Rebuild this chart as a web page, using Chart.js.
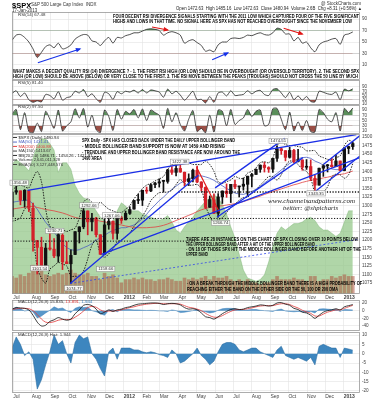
<!DOCTYPE html>
<html>
<head>
<meta charset="utf-8">
<script src="https://cdn.jsdelivr.net/npm/chart.js@4.4.1/dist/chart.umd.min.js"></script>
<style>
html,body{margin:0;padding:0;background:#fff;}
#wrap{position:relative;width:377px;height:400px;overflow:hidden;}
.pane{position:absolute;left:0;width:377px;}
#over{position:absolute;left:0;top:0;pointer-events:none;}
</style>
</head>
<body>
<div id="wrap">
  <div class="pane" style="top:12px;height:68px"><canvas id="rsi14"></canvas></div>
  <div class="pane" style="top:80px;height:25px"><canvas id="rsi5"></canvas></div>
  <div class="pane" style="top:105px;height:29px"><canvas id="rsi2"></canvas></div>
  <div class="pane" style="top:134px;height:167px"><canvas id="price"></canvas></div>
  <div class="pane" style="top:300px;height:31px"><canvas id="macd"></canvas></div>
  <div class="pane" style="top:332px;height:68px"><canvas id="hist"></canvas></div>
  <canvas id="over" width="377" height="400"></canvas>
</div>
<script>
// ================= DATA =================
const weeks = [
  '2011-07-01','2011-07-08','2011-07-15','2011-07-22','2011-07-29','2011-08-05','2011-08-12','2011-08-19','2011-08-26',
  '2011-09-02','2011-09-09','2011-09-16','2011-09-23','2011-09-30','2011-10-07','2011-10-14','2011-10-21','2011-10-28',
  '2011-11-04','2011-11-11','2011-11-18','2011-11-25','2011-12-02','2011-12-09','2011-12-16','2011-12-23','2011-12-30',
  '2012-01-06','2012-01-13','2012-01-20','2012-01-27','2012-02-03','2012-02-10','2012-02-17','2012-02-24','2012-03-02',
  '2012-03-09','2012-03-16','2012-03-23','2012-03-30','2012-04-06','2012-04-13','2012-04-20','2012-04-27','2012-05-04',
  '2012-05-11','2012-05-18','2012-05-25','2012-06-01','2012-06-08','2012-06-15','2012-06-22','2012-06-29','2012-07-06',
  '2012-07-13','2012-07-20','2012-07-27','2012-08-03','2012-08-10','2012-08-17','2012-08-24','2012-08-31','2012-09-07',
  '2012-09-14','2012-09-21','2012-09-28','2012-10-05','2012-10-12','2012-10-19','2012-10-26','2012-11-02','2012-11-09',
  '2012-11-16','2012-11-23','2012-11-30','2012-12-07','2012-12-14','2012-12-21','2012-12-28','2013-01-04','2013-01-11','2013-01-18'
];
const opens = [1268.4,1339.6,1343.3,1315.9,1344.3,1292.6,1198.5,1179.2,1123.2,1177.0,1173.6,1153.5,1214.0,1136.9,1131.2,1158.2,1224.5,1238.7,
  1284.9,1253.2,1263.9,1215.6,1158.7,1244.3,1255.1,1219.7,1265.0,1258.9,1277.8,1290.2,1315.3,1316.2,1344.3,1343.1,1361.2,1366.0,
  1370.8,1370.8,1404.2,1397.1,1408.5,1397.4,1370.3,1378.5,1403.3,1369.1,1353.4,1295.7,1317.4,1278.0,1325.7,1342.4,1335.0,1362.3,
  1354.7,1356.8,1362.3,1385.9,1391.0,1405.9,1418.1,1411.1,1406.5,1438.0,1465.8,1460.3,1440.9,1461.0,1428.8,1433.2,1412.0,1414.0,
  1379.9,1359.9,1409.2,1416.3,1418.1,1413.5,1430.2,1402.4,1466.5,1472.1];
const highs = [1341.0,1356.5,1343.3,1347.0,1345.0,1307.4,1199.1,1208.5,1190.7,1230.7,1204.4,1220.1,1222.0,1195.9,1171.4,1224.6,1239.0,1292.7,
  1285.0,1277.6,1266.0,1215.6,1261.7,1267.1,1255.1,1265.4,1269.4,1284.6,1296.8,1315.5,1333.5,1345.3,1354.3,1363.4,1368.0,1378.0,
  1374.0,1405.9,1414.0,1419.2,1422.4,1398.1,1392.8,1406.6,1415.3,1370.0,1355.0,1328.5,1334.4,1335.5,1343.3,1363.5,1362.2,1374.8,
  1357.0,1380.4,1386.0,1394.2,1407.1,1418.7,1426.7,1413.5,1438.0,1474.5,1467.1,1460.3,1470.0,1464.0,1464.0,1433.7,1434.3,1433.4,
  1388.8,1409.2,1419.7,1420.3,1438.6,1448.0,1430.2,1467.9,1472.8,1485.2];
const lows = [1267.4,1333.2,1302.7,1295.9,1282.9,1168.1,1101.5,1121.1,1121.1,1170.4,1149.1,1136.2,1114.2,1131.1,1074.8,1157.5,1191.5,1233.0,
  1215.4,1226.6,1209.4,1158.7,1158.7,1231.5,1202.4,1202.4,1248.6,1258.9,1274.7,1290.2,1306.1,1300.5,1335.9,1340.8,1352.3,1354.2,
  1340.0,1365.5,1391.0,1386.9,1397.2,1357.4,1358.8,1369.6,1367.0,1343.1,1291.0,1295.1,1277.2,1266.7,1306.6,1324.4,1309.3,1350.0,
  1325.4,1345.1,1329.2,1354.7,1391.0,1397.3,1398.0,1397.0,1396.6,1429.1,1449.6,1430.5,1438.6,1425.5,1427.8,1403.3,1405.6,1373.0,
  1343.4,1359.9,1385.4,1398.2,1411.9,1413.5,1401.6,1401.6,1451.6,1463.8];
const closes = [1339.7,1343.8,1316.1,1345.0,1292.3,1199.4,1178.8,1123.5,1176.8,1174.0,1154.2,1216.0,1136.4,1131.4,1155.5,1224.6,1238.3,1285.1,
  1253.2,1263.9,1215.7,1158.7,1244.3,1255.2,1219.7,1265.3,1257.6,1277.8,1289.1,1315.4,1316.3,1344.9,1342.6,1361.2,1365.7,1369.6,
  1370.9,1404.2,1397.1,1408.5,1398.1,1370.3,1378.5,1403.4,1369.1,1353.4,1295.2,1317.8,1278.0,1325.7,1342.8,1335.0,1362.2,1354.7,
  1356.8,1362.7,1386.0,1391.0,1405.9,1418.2,1411.1,1406.6,1437.9,1465.8,1460.2,1440.7,1460.9,1428.6,1433.2,1411.9,1414.2,1379.9,
  1359.9,1409.2,1416.2,1418.1,1413.6,1430.2,1402.4,1466.5,1472.1,1480.9];

const ma50 = [1310,1312,1314,1316,1316,1305,1290,1270,1252,1237,1222,1208,1190,1178,1172,1170,1172,1178,1183,1190,
  1200,1207,1214,1222,1228,1232,1236,1236,1240,1244,1252,1262,1275,1290,1302,1315,1325,1337,1348,1357,
  1366,1372,1378,1383,1386,1387,1384,1380,1374,1366,1358,1350,1344,1337,1334,1333,1337,1342,1348,1356,
  1366,1375,1385,1394,1404,1414,1423,1430,1437,1440,1441,1438,1430,1425,1418,1412,1407,1405,1405,1410,1418,1431];
const ma200 = [1290,1292,1294,1296,1298,1298,1295,1292,1289,1287,1285,1282,1279,1275,1270,1266,1263,1262,1260,1259,
  1258,1255,1253,1251,1248,1246,1244,1241,1239,1237,1236,1236,1236,1237,1238,1240,1243,1247,1252,1257,
  1262,1267,1272,1277,1283,1288,1292,1295,1297,1299,1300,1302,1304,1306,1309,1312,1316,1320,1324,1328,
  1333,1337,1341,1345,1349,1353,1357,1361,1364,1368,1371,1374,1376,1378,1381,1383,1386,1389,1391,1393,1397,1401];
const bbUpper = [1345,1355,1360,1355,1352,1380,1400,1370,1290,1240,1235,1225,1230,1225,1230,1235,1265,1310,1320,1310,
  1300,1310,1300,1290,1285,1280,1280,1290,1300,1320,1335,1350,1360,1365,1372,1378,1385,1405,1420,1422,
  1420,1425,1425,1420,1420,1420,1430,1420,1400,1370,1365,1370,1375,1385,1380,1380,1395,1400,1410,1425,
  1428,1425,1440,1475,1485,1478,1475,1475,1472,1470,1460,1460,1460,1445,1440,1435,1432,1440,1445,1475,1490,1486];
const bbLower = [1255,1258,1265,1290,1298,1220,1120,1090,1075,1115,1125,1135,1130,1125,1095,1095,1095,1110,1145,1185,
  1200,1160,1150,1160,1175,1195,1200,1210,1220,1240,1255,1270,1290,1315,1328,1338,1339,1340,1345,1362,
  1376,1365,1360,1360,1362,1350,1300,1270,1250,1260,1265,1280,1295,1305,1316,1324,1325,1336,1346,1360,
  1372,1385,1384,1375,1390,1416,1430,1428,1420,1406,1400,1380,1340,1335,1340,1355,1384,1392,1390,1380,1390,1423];
// volume shown as share of the price pane height
const volArea = [81,84,82,80,77,85,93,97,97,94,90,76,82,82,78,68,63,60,59,56,52,48,46,43,46,52,57,55,52,52,
  52,50,49,48,47,46,47,49,45,40,38,42,45,48,52,55,58,60,62,60,56,50,42,35,25,15,10,9,8,9,
  12,20,30,38,42,40,42,44,44,45,47,48,46,42,40,40,38,36,38,45,52,52];
const volBars = [11,10,12,11,13,18,17,15,12,11,12,13,12,13,15,13,12,12,13,11,11,9,13,11,12,10,7,9,9,10,
  9,10,9,9,8,9,9,10,9,8,8,10,9,10,9,10,11,9,11,10,10,11,9,8,9,8,9,7,7,6,
  7,7,9,11,9,9,9,10,9,9,8,11,11,8,9,9,11,10,11,12,11,11];

const rsi14 = [53,62,63,58,50,38,23,32,42,45,40,48,38,40,45,55,60,63,62,52,50,44,52,58,48,58,57,61,63,66,
  66,69,72,73,72,70,62,66,68,66,62,48,52,54,49,44,34,36,33,45,50,50,56,57,56,58,62,61,64,66,
  63,62,66,74,72,64,64,52,58,48,50,40,33,45,50,52,55,56,46,62,64,67.5];
const rsi5 = [60,72,45,62,30,18,25,20,55,50,35,68,28,40,45,70,62,78,45,58,35,18,65,58,32,68,58,70,66,75,
  62,78,62,76,72,66,42,80,58,70,52,28,48,70,30,32,15,45,18,62,66,48,72,50,52,55,72,58,70,74,
  55,50,78,82,62,40,65,30,48,28,45,22,20,70,65,58,55,66,30,80,72,81.4];
const rsi2 = [75,92,15,80,8,3,40,8,85,55,20,90,10,30,45,95,60,96,25,70,15,4,90,65,12,92,55,85,75,92,
  60,94,50,90,80,70,20,96,45,80,35,10,55,88,8,20,3,70,6,90,85,30,92,35,50,60,92,65,85,90,
  30,35,95,96,55,15,82,10,45,12,50,8,6,92,80,55,45,80,10,96,80,97.5];

const macdLine = [4,8,7,6,2,-12,-30,-40,-38,-28,-24,-18,-22,-25,-22,-8,2,14,16,13,4,-8,-4,2,-2,2,4,8,10,14,
  17,18,19,20,20,19,16,18,19,18,15,8,4,5,2,-6,-16,-18,-22,-16,-8,-2,3,5,3,4,8,10,12,15,
  14,12,14,20,21,17,14,6,3,-4,-6,-12,-20,-12,-4,0,2,5,2,10,13,15.8];
const macdSignal = [3,5,6,6,5,0,-10,-22,-30,-31,-29,-25,-23,-23,-23,-17,-10,-1,8,11,9,2,-2,-1,-1,0,2,5,8,10,
  13,15,17,18,19,19,18,18,18,18,17,13,9,7,4,0,-7,-13,-17,-17,-13,-7,-2,2,3,3,5,7,10,12,
  13,13,13,16,18,18,16,11,7,1,-3,-7,-14,-14,-9,-4,-1,2,2,6,10,13.9];
const macdHist = [3,9,5,-1,1,-3,-19,-14,-6,1,10,5,7,0,-5,6,10,8,9,0,-3,-8,-12,1,3,-3,3,3,3,2,
  2,1,0.5,1,0.5,-0.5,-1,-2,2,0,-5,-4,-2,0,3,-1,-3,-6,-4,1,5,6,6,5,2,1,2,3,3,1,
  0,-1,-2,2,4,-1,-2,-3,-2,-3,-4,-2,-6,4,5,4,3,3,-2,3,2.5,1.9];

const monthStarts = ['2011-07-01','2011-08-01','2011-09-01','2011-10-01','2011-11-01','2011-12-01','2012-01-01','2012-02-01',
  '2012-03-01','2012-04-01','2012-05-01','2012-06-01','2012-07-01','2012-08-01','2012-09-01','2012-10-01','2012-11-01','2012-12-01','2013-01-01'];
const monthLabels = ['Jul','Aug','Sep','Oct','Nov','Dec','2012','Feb','Mar','Apr','May','Jun','Jul','Aug','Sep','Oct','Nov','Dec','2013'];
const rsiTicks = [10,30,50,70,90];
const priceTicks = [1075,1100,1125,1150,1175,1200,1225,1250,1275,1300,1325,1350,1375,1400,1425,1450,1475,1500];
const macdTicks = [-40,-20,0,20];
const histTicks = [-20,-15,-10,-5,0,5,10];

// trendlines: [start date, start price, end date, end price]
const blueLines = [
  ['2011-07-25',1345,'2013-01-22',1507],
  ['2011-10-04',1074,'2012-05-04',1389],
  ['2011-11-25',1158.66,'2013-01-28',1440],
  ['2012-06-04',1266.7,'2012-10-25',1440],
  ['2012-06-01',1352,'2012-09-25',1496],
  ['2012-11-16',1343.35,'2013-01-28',1445],
  ['2012-11-28',1420,'2013-01-28',1504]
];
const dottedBlue = [['2011-10-04',1074,'2013-01-28',1203]];
const redLines = [['2012-05-01',1412,'2012-06-08',1282]];
const levelPrices = [1340,1263,1197];
const levelFrom = ['2012-04-01','2011-06-29','2011-06-29'];
const levelTo = ['2013-01-28','2013-01-28','2012-05-01'];
// boxed price notes (label centre)
const noteDates = ['2011-07-11','2011-09-08','2011-08-14','2011-11-04','2011-12-12','2011-12-02','2011-10-10','2012-04-03','2012-09-14','2012-06-10','2012-11-16'];
const notePrices = [1367,1227,1118,1301,1272,1116,1060,1428,1488,1250,1336];
const noteTexts = ['1356.48','1230.71','1101.54','1292.66','1267.06','1158.66','1074.77','1422.38','1474.51','1266.74','1343.35'];

// RSI(14) divergence arrows: [from date, from value, to date, to value]
const rsiBlueArrows = [['2011-08-11',14,'2011-10-20',38],['2012-05-27',19,'2012-06-22',31]];
const rsiRedArrows = [['2012-02-17',76,'2012-03-14',71],['2012-09-23',74,'2012-10-24',64]];

// ================= HELPERS =================
const FONT = '"Liberation Sans", Arial, sans-serif';
const day = s => { const [y,m,d] = s.split('-').map(Number); return (Date.UTC(y,m-1,d) - Date.UTC(2011,6,1)) / 864e5; };
const X_MIN = day('2011-06-29'), X_MAX = day('2013-01-28');
const wx = weeks.map(d => day(d) - 2);
const series = arr => arr.map((v,i) => ({x: wx[i], y: v}));
const seg = l => [{x: day(l[0]), y: l[1]}, {x: day(l[2]), y: l[3]}];

function xScale(labels){
  return {
    type:'linear', min:X_MIN, max:X_MAX, offset:false,
    afterBuildTicks: s => { s.ticks = monthStarts.map(d => ({value: day(d)})); },
    ticks:{ display:labels, autoSkip:false, maxRotation:0, align:'start', padding:1, color:'#444',
      font: c => ({size:5, family:FONT, weight: /^20/.test(monthLabels[c.index]) ? 'bold' : 'normal'}),
      callback:(v,i) => monthLabels[i] },
    grid:{ color:'#e3e3e3', lineWidth:0.6, drawTicks:false, offset:false },
    border:{ display:false },
    afterFit: s => { s.height = labels ? 7 : 0; s.paddingLeft = 0; s.paddingRight = 0; }
  };
}
function yScale(min, max, ticks, gridColor){
  return {
    position:'right', min, max,
    afterBuildTicks: s => { s.ticks = ticks.map(v => ({value:v})); },
    ticks:{ autoSkip:false, padding:2, color:'#444', font:{size:4.6, family:FONT}, callback: v => String(v) },
    grid:{ color: gridColor || '#e3e3e3', lineWidth:0.6, drawTicks:false },
    border:{ display:false },
    afterFit: s => { s.width = 17; s.paddingTop = 0; s.paddingBottom = 0; }
  };
}
const frame = { id:'frame', afterDraw(c){ const a = c.chartArea, x = c.ctx; x.save(); x.strokeStyle = '#999'; x.lineWidth = 0.8;
  x.strokeRect(a.left + 0.5, a.top + 0.5, a.right - a.left - 1, a.bottom - a.top - 1); x.restore(); } };
const arrows = { id:'arrows', afterDatasetsDraw(c){
  const x = c.ctx;
  c.data.datasets.forEach((ds, i) => {
    if (!ds.arrow) return;
    const p = c.getDatasetMeta(i).data, a = p[0], b = p[1];
    const t = Math.atan2(b.y - a.y, b.x - a.x), co = Math.cos(t), si = Math.sin(t);
    x.save(); x.fillStyle = ds.borderColor; x.beginPath();
    x.moveTo(b.x + 1.5*co, b.y + 1.5*si);
    x.lineTo(b.x - 4*co + 2.3*si, b.y - 4*si - 2.3*co);
    x.lineTo(b.x - 4*co - 2.3*si, b.y - 4*si + 2.3*co);
    x.closePath(); x.fill(); x.restore();
  });
} };
const baseOpts = (scales) => ({
  responsive:true, maintainAspectRatio:false, animation:false, events:[],
  layout:{ padding:{left:12, right:0, top:0, bottom:0}, autoPadding:false },
  plugins:{ legend:{display:false}, tooltip:{enabled:false} },
  scales
});
const lineDs = (data, color, w, extra) => Object.assign({ type:'line', data, borderColor:color, borderWidth:w, pointRadius:0, fill:false, tension:0 }, extra || {});

function rsiChart(id, vals, min, max, extra){
  const data = series(vals);
  const ds = [
    lineDs(data, 'rgba(0,0,0,0)', 0, { fill:{target:{value:70}, above:'#5b8f5b', below:'rgba(0,0,0,0)'}, order:3 }),
    lineDs(data, 'rgba(0,0,0,0)', 0, { fill:{target:{value:30}, above:'rgba(0,0,0,0)', below:'#9b4e45'}, order:3 }),
    lineDs(data, '#222', 0.8, { order:2, tension:0.25 })
  ].concat(extra || []);
  new Chart(document.getElementById(id), {
    type:'line', data:{ datasets: ds },
    options: baseOpts({ x: xScale(false), y: yScale(min, max, rsiTicks, c => (c.tick.value === 70 || c.tick.value === 30) ? '#b5b5b5' : '#e3e3e3') }),
    plugins:[frame, arrows]
  });
}

// ================= RSI PANES =================
const rsiArrowDs = rsiBlueArrows.map(l => lineDs(seg(l), '#1530e8', 1.1, {arrow:true, order:0}))
  .concat(rsiRedArrows.map(l => lineDs(seg(l), '#e01515', 1.1, {arrow:true, order:0})));
rsiChart('rsi14', rsi14, -16.1, 102.2, rsiArrowDs);
rsiChart('rsi5', rsi5, 5.3, 122.9);
rsiChart('rsi2', rsi2, -1.4, 109.05);

// ================= PRICE PANE =================
const upDown = closes.map((c,i) => c < opens[i] ? '#d4202a' : '#111');
const notesPlugin = { id:'notes', afterDatasetsDraw(c){
  const x = c.ctx, sx = c.scales.x, sy = c.scales.y;
  x.save(); x.font = '4.3px ' + FONT; x.textAlign = 'center'; x.textBaseline = 'middle';
  noteTexts.forEach((t, i) => {
    const px = sx.getPixelForValue(day(noteDates[i])), py = sy.getPixelForValue(notePrices[i]);
    const w = x.measureText(t).width + 3;
    x.fillStyle = 'rgba(255,255,255,0.9)'; x.strokeStyle = '#888'; x.lineWidth = 0.5;
    x.fillRect(px - w/2, py - 2.6, w, 5.2); x.strokeRect(px - w/2, py - 2.6, w, 5.2);
    x.fillStyle = '#333'; x.fillText(t, px, py + 0.2);
  });
  x.restore();
} };
const priceDs = [
  lineDs(series(volArea), 'rgba(110,170,100,0.7)', 0.5, { yAxisID:'v', fill:'origin', backgroundColor:'rgba(145,198,135,0.72)', order:20 }),
  { type:'bar', yAxisID:'v', data: series(volBars), backgroundColor:'rgba(175,85,65,0.55)', barThickness:3, grouped:false, order:19 },
  lineDs(series(ma200), '#e04040', 0.8, { order:10 }),
  lineDs(series(ma50), '#4a5fc0', 0.8, { order:10 }),
  lineDs(series(bbUpper), '#111', 0.9, { borderDash:[1.5,1.2], order:9, tension:0.3 }),
  lineDs(series(bbLower), '#111', 0.9, { borderDash:[1.5,1.2], order:9, tension:0.3 }),
  { type:'bar', data: weeks.map((d,i) => ({x: wx[i], y:[lows[i], highs[i]]})), backgroundColor: upDown, barThickness:1, grouped:false, order:5 },
  { type:'bar', data: weeks.map((d,i) => ({x: wx[i], y:[opens[i], closes[i]]})), backgroundColor: upDown, barThickness:2.6, minBarLength:1, grouped:false, order:4 }
]
.concat(levelPrices.map((p,i) => lineDs([{x:day(levelFrom[i]), y:p}, {x:day(levelTo[i]), y:p}], '#111', i === 0 ? 1.5 : 1, { borderDash:[1.2,1.6], order:3 })))
.concat(blueLines.map(l => lineDs(seg(l), '#1a2ee6', 1.3, { order:1 })))
.concat(dottedBlue.map(l => lineDs(seg(l), '#3348e8', 0.8, { borderDash:[2,2], order:1 })))
.concat(redLines.map(l => lineDs(seg(l), '#e31b1b', 1.2, { order:1 })));

new Chart(document.getElementById('price'), {
  type:'bar', data:{ datasets: priceDs },
  options: baseOpts({
    x: xScale(true),
    y: yScale(1043.2, 1508.7, priceTicks),
    v: { display:false, min:0, max:100 }
  }),
  plugins:[frame, notesPlugin]
});

// ================= MACD PANES =================
new Chart(document.getElementById('macd'), {
  type:'line',
  data:{ datasets:[
    lineDs(series(macdHist), '#3a7fb8', 0.5, { fill:'origin', backgroundColor:'rgba(70,140,195,0.9)', order:3 }),
    lineDs(series(macdSignal), '#e03a3a', 0.8, { order:2, tension:0.3 }),
    lineDs(series(macdLine), '#111', 0.8, { order:1, tension:0.3 })
  ]},
  options: baseOpts({ x: xScale(false), y: yScale(-53.1, 27.8, macdTicks) }),
  plugins:[frame]
});
new Chart(document.getElementById('hist'), {
  type:'line',
  data:{ datasets:[ lineDs(series(macdHist), '#2d6ea3', 0.6, { fill:'origin', backgroundColor:'#3d86bf' }) ]},
  options: baseOpts({ x: xScale(true), y: yScale(-21.1, 11.64, histTicks) }),
  plugins:[frame]
});

// ================= TEXT =================
const ov = document.getElementById('over').getContext('2d');
function put(s, x, y, size, o){
  o = o || {};
  ov.font = (o.style || '') + ' ' + (o.weight || 'normal') + ' ' + size + 'px ' + (o.family || FONT);
  ov.fillStyle = o.color || '#000'; ov.textAlign = o.align || 'left'; ov.textBaseline = 'middle';
  if (o.w) ov.fillText(s, x, y, o.w); else ov.fillText(s, x, y);
  return x + Math.min(ov.measureText(s).width, o.w || 1e9);
}
put('$SPX', 12, 5.5, 7.5, {weight:'bold'});
put('S&P 500 Large Cap Index  INDX', 31, 4.5, 4.5, {color:'#333'});
put('17-Jan-2013', 12, 10.3, 4.5, {color:'#333'});
put('@ StockCharts.com', 361, 3.5, 4.5, {align:'right', color:'#333'});
put('Open 1472.63  High 1485.16  Low 1472.63  Close 1480.94  Volume 2.6B  Chg +8.31 (+0.56%) \u25B2', 176, 8.8, 4.5, {w:186, color:'#222'});

put('RSI(14) 67.48', 18, 14.5, 4.4, {color:'#333'});
put('FOUR DECENT RSI DIVERGENCE SIGNALS STARTING WITH THE 2011 LOW WHICH CAPTURED FOUR OF THE FIVE SIGNIFICANT', 113, 16.5, 4.8, {weight:'bold', w:246});
put('HIGHS AND LOWS IN THAT TIME. NO SIGNAL HERE AS SPX HAS NOT REACHED OVERBOUGHT SINCE THE NOVEMBER LOW', 113, 22, 4.8, {weight:'bold', w:239});
put('WHAT MAKES A DECENT QUALITY RSI (14) DIVERGENCE ? - 1. THE FIRST RSI HIGH (OR LOW) SHOULD BE IN OVERBOUGHT (OR OVERSOLD TERRITORY). 2. THE SECOND SPX', 13, 71.5, 4.8, {weight:'bold', w:346});
put('HIGH (OR LOW) SHOULD BE ABOVE (BELOW) OR VERY CLOSE TO THE FIRST. 3. THE RSI MOVE BETWEEN THE PEAKS (TROUGHS) SHOULD NOT CROSS THE 50 LINE BY MUCH', 13, 77, 4.8, {weight:'bold', w:345});
put('RSI(5) 81.40', 18, 82.5, 4.4, {color:'#333'});
put('RSI(2) 97.50', 18, 107, 4.4, {color:'#333'});

// price legend
const legend = [['$SPX (Daily) 1480.94','#222'],['MA(50) 1431.41','#4a5fc0'],['MA(200) 1400.88','#e04040'],
  ['MA(150) 1413.67','#333'],['BB(20,2.0) 1486.71 - 1454.26 - 1421.81','#222'],['Volume 2,641,011,328','#333'],['EMA(50) 3,127,448,576','#333']];
legend.forEach((l, i) => {
  const y = 137.5 + i * 4.5;
  ov.fillStyle = l[1]; ov.fillRect(13, y - 0.4, 4, 0.9);
  put(l[0], 18.5, y, 4.2, {color:l[1]});
});
['SPX Daily - SPX HAS CLOSED BACK UNDER THE DAILY UPPER BOLLINGER BAND',
 '- MIDDLE BOLLINGER BAND SUPPORT IS NOW AT 1459 AND RISING',
 '- TRENDLINE AND UPPER BOLLINGER BAND RESISTANCE ARE NOW AROUND THE',
 '1490 AREA'].forEach((s, i) => put(s, 82, 141 + i * 6, 4.8, {weight:'bold', w:[153,143,158,20][i]}));
['THERE ARE 28 INSTANCES ON THIS CHART OF SPX CLOSING OVER 10 POINTS BELOW',
 'THE UPPER BOLLINGER BAND AFTER A HIT OF THE UPPER BOLLINGER BAND',
 '- ON 18 OF THOSE SPX HIT THE MIDDLE BOLLINGER BAND BEFORE ANOTHER HIT OF THE',
 'UPPER BAND'].forEach((s, i) => put(s, 186, 239.5 + i * 5.2, 4.8, {weight:'bold', w:[172,129,175,22][i]}));
put('- ON A BREAK THROUGH THE MIDDLE BOLLINGER BAND THERE IS A HIGH PROBABILITY OF', 187, 283.5, 4.8, {weight:'bold', w:175});
put('REACHING EITHER THE BAND ON THE OTHER SIDE OR THE 50, 100 OR 200 DMA', 187, 289.2, 4.8, {weight:'bold', w:151});
put('www.channelsandpatterns.com', 268, 201, 7, {style:'italic', family:'"Liberation Serif", serif', color:'#222', w:87});
put('twitter: @shpicharts', 283, 207.8, 7, {style:'italic', family:'"Liberation Serif", serif', color:'#222', w:55});

let mx = put('MACD(12,26,9) 15.835,', 18, 301.8, 4.4, {color:'#333'});
mx = put(' 13.891', mx, 301.8, 4.4, {color:'#e03a3a'});
put(', 1.944', mx, 301.8, 4.4, {color:'#3a7fb8'});
put('MACD(12,26,9) Hist: 1.944', 18, 334.5, 4.4, {color:'#333'});
</script>
</body>
</html>
